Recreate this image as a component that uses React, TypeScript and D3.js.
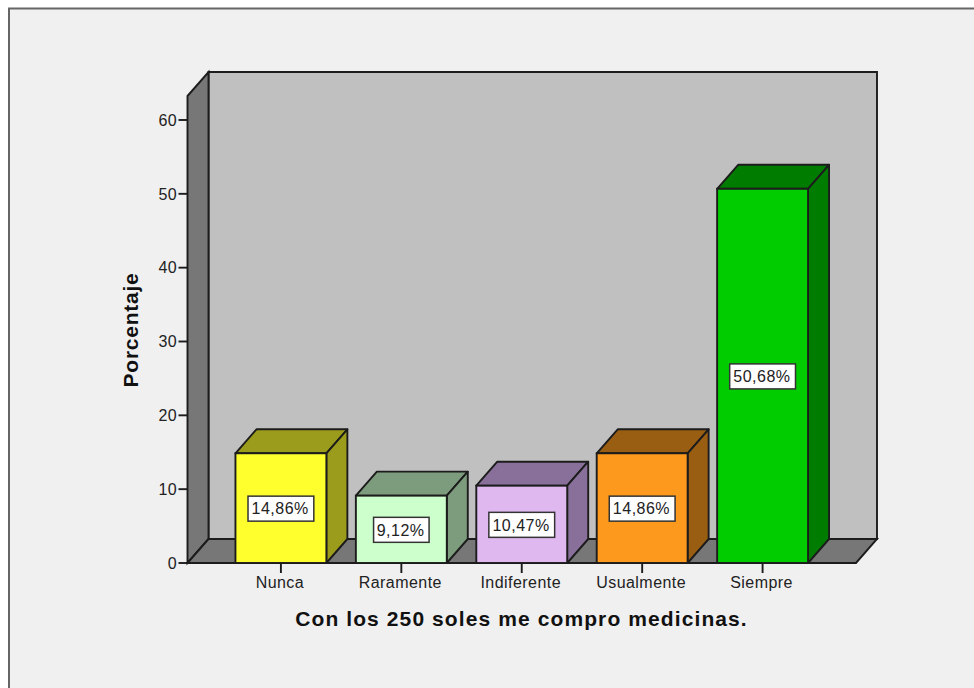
import React from "react";
import * as d3 from "d3";

const categories = ["Nunca", "Raramente", "Indiferente", "Usualmente", "Siempre"];
const percentages = [14.86, 9.12, 10.47, 14.86, 50.68];
const percentLabels = ["14,86%", "9,12%", "10,47%", "14,86%", "50,68%"];
const frontColors = ["#ffff2e", "#ccffcc", "#dfb8f0", "#fd9a1d", "#00cc00"];
const darkColors = ["#9c9c1c", "#7d9c7d", "#88709a", "#9a5e12", "#007d00"];
const yTicks = [0, 10, 20, 30, 40, 50, 60];
const yAxisTitle = "Porcentaje";
const xAxisTitle = "Con los 250 soles me compro medicinas.";

const W = 974, H = 688;
const left = 187.5, right = 856, bottom = 563, top = 96;
const depthX = 21, depthY = 24;
const stroke = "#1c1c1c";
const sw = 1.9;

const y = d3.scaleLinear().domain([0, 63.25]).range([bottom, top]);
const x = d3.scaleBand<string>().domain(categories).range([221, 822.5]).paddingInner(0.245).paddingOuter(0.12);

const poly = (pts: [number, number][]) => d3.line()(pts)! + "Z";
const font = "'Liberation Sans', Arial, sans-serif";

export default function App() {
  return (
    <svg width={W} height={H} style={{ position: "absolute", left: 0, top: 0, background: "#fff" }} fontFamily={font}>
      <rect x={9} y={8.5} width={W + 10} height={H + 10} fill="#f0f0f0" stroke="#666" strokeWidth={2} />
      {/* back wall */}
      <path d={poly([[left + depthX, top - depthY], [right + depthX, top - depthY], [right + depthX, bottom - depthY], [left + depthX, bottom - depthY]])} fill="#c0c0c0" stroke={stroke} strokeWidth={sw} />
      {/* side wall */}
      <path d={poly([[left, top], [left + depthX, top - depthY], [left + depthX, bottom - depthY], [left, bottom]])} fill="#777777" stroke={stroke} strokeWidth={sw} />
      {/* floor */}
      <path d={poly([[left, bottom], [left + depthX, bottom - depthY], [right + depthX, bottom - depthY], [right, bottom]])} fill="#777777" stroke={stroke} strokeWidth={sw} />
      {/* y axis */}
      {yTicks.map((t) => (
        <g key={t}>
          <line x1={left - 9} x2={left} y1={y(t)} y2={y(t)} stroke={stroke} strokeWidth={sw} />
          <text x={left - 10.5} y={y(t)} dy="0.36em" textAnchor="end" fontSize={16} letterSpacing={0.4} fill="#222">{t}</text>
        </g>
      ))}
      {/* bars */}
      {categories.map((c, i) => {
        const x0 = x(c)!, x1 = x0 + x.bandwidth(), yv = y(percentages[i]);
        const cx = (x0 + x1) / 2, cy = (yv + bottom) / 2;
        const w = percentLabels[i].length * 10.3 + 4;
        return (
          <g key={c}>
            <line x1={cx} x2={cx} y1={bottom} y2={bottom + 10} stroke={stroke} strokeWidth={sw} />
            <path d={poly([[x0, yv], [x0 + depthX, yv - depthY], [x1 + depthX, yv - depthY], [x1, yv]])} fill={darkColors[i]} stroke={stroke} strokeWidth={sw} strokeLinejoin="round" />
            <path d={poly([[x1, yv], [x1 + depthX, yv - depthY], [x1 + depthX, bottom - depthY], [x1, bottom]])} fill={darkColors[i]} stroke={stroke} strokeWidth={sw} strokeLinejoin="round" />
            <rect x={x0} y={yv} width={x.bandwidth()} height={bottom - yv} fill={frontColors[i]} stroke={stroke} strokeWidth={sw} />
            <rect x={cx - w / 2} y={cy - 12} width={w} height={25} fill="#fff" stroke="#333" strokeWidth={1.5} />
            <text x={cx - 0.7} y={cy + 0.5} dy="0.36em" textAnchor="middle" fontSize={16} letterSpacing={0.5} fill="#222">{percentLabels[i]}</text>
            <text x={cx - 1} y={588} textAnchor="middle" fontSize={16} letterSpacing={0.45} fill="#222">{c}</text>
          </g>
        );
      })}
      <text x={521.5} y={626} textAnchor="middle" fontSize={21} fontWeight="bold" letterSpacing={1.1} fill="#111">{xAxisTitle}</text>
      <text transform="translate(138,330) rotate(-90)" textAnchor="middle" fontSize={21} fontWeight="bold" letterSpacing={0.75} fill="#111">{yAxisTitle}</text>
    </svg>
  );
}
